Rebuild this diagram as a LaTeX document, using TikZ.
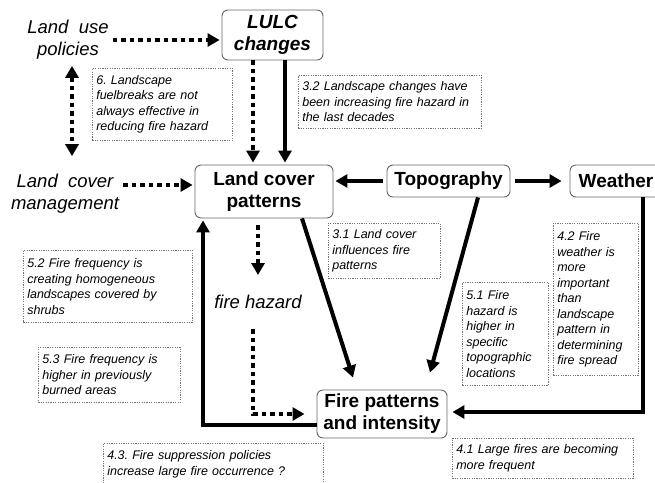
\documentclass[tikz,border=0pt]{standalone}
\usepackage{fontspec}
\setmainfont{Liberation Sans}
\usetikzlibrary{arrows.meta}
\begin{document}
\frenchspacing
\begin{tikzpicture}[x=1pt,y=-1pt,
 box/.style={draw=black!60, line width=0.9pt, rounded corners=6pt, fill=white, align=center, font=\fontsize{19}{22}\selectfont\bfseries, inner sep=0pt},
 lbl/.style={align=center, font=\fontsize{18.5}{22}\selectfont\itshape, inner sep=0pt},
 note/.style={draw=black!55, dash pattern=on 1.2pt off 1.2pt, line width=0.6pt, anchor=north west, align=left, font=\fontsize{12.5}{15.5}\selectfont\itshape\frenchspacing, inner xsep=4pt, inner ysep=4pt},
 solidarr/.style={line width=4pt, -{Triangle[width=13pt,length=12pt]}},
 dotarr/.style={line width=4.5pt, dash pattern=on 4.5pt off 4pt, -{Triangle[width=13pt,length=12pt]}},
]
\useasboundingbox (0,0) rectangle (655,482);
\clip (0,0) rectangle (655,482);
\fill[white] (0,0) rectangle (655,482);

% main boxes
\node[box, minimum width=101pt, minimum height=50pt, font=\fontsize{19}{22}\selectfont\bfseries\itshape] (lulc) at (272.5,35) {LULC\\changes};
\node[box, minimum width=138pt, minimum height=53pt] (lcp) at (264,191.5) {Land cover\\patterns};
\node[box, minimum width=123pt, minimum height=32pt] (topo) at (448.5,181) {Topography};
\node[box, minimum width=92pt, minimum height=32pt] (wea) at (616,181) {Weather};
\node[box, minimum width=130pt, minimum height=48pt] (fire) at (382,414) {Fire patterns\\and intensity};

% plain labels
\node[lbl] (lup) at (68,40) {Land\ \ use\\policies};
\node[lbl] (lcm) at (65,194) {Land\ \ cover\\management};
\node[lbl] (fh) at (258,302) {fire hazard};

% notes
\node[note, text width=132pt, minimum height=72pt] (n6) at (92,68) {6. Landscape\\fuelbreaks are not\\always effective in\\reducing fire hazard};
\node[note, text width=175pt, minimum height=53pt] (n32) at (298,75) {3.2 Landscape changes have\\been increasing fire hazard in\\the last decades};
\node[note, text width=104pt, minimum height=55pt] (n31) at (328,223) {3.1 Land cover\\influences fire\\patterns};
\node[note, text width=78pt, minimum height=103pt] (n51) at (462,282) {5.1 Fire\\hazard is\\higher in\\specific\\topographic\\locations};
\node[note, text width=77pt, minimum height=152pt] (n42) at (553,223) {4.2 Fire\\weather is\\more\\important\\than\\landscape\\pattern in\\determining\\fire spread};
\node[note, text width=161pt, minimum height=72pt] (n52) at (23,250) {5.2 Fire frequency is\\creating homogeneous\\landscapes covered by\\shrubs};
\node[note, text width=134pt, minimum height=55pt] (n53) at (38,347) {5.3 Fire frequency is\\higher in previously\\burned areas};
\node[note, text width=212pt, minimum height=42pt] (n43) at (103,443) {4.3. Fire suppression policies\\increase large fire occurrence ?};
\node[note, text width=173pt, minimum height=40pt] (n41) at (452,438) {4.1 Large fires are becoming\\more frequent};

% connectors
\draw[dotarr] ([xshift=4pt]lup.east) -- ([xshift=-2pt]lulc.west |- lup.east);
\draw[dotarr, {Triangle[width=13pt,length=12pt]}-{Triangle[width=13pt,length=12pt]}] ([shift={(4pt,-6pt)}]lup.south) -- ([shift={(7pt,18pt)}]lcm.north);
\draw[dotarr] ([xshift=-19.5pt]lulc.south) -- ([shift={(-11pt,2pt)}]lcp.north);
\draw[solidarr] ([xshift=12.5pt]lulc.south) -- ([shift={(21pt,2pt)}]lcp.north);
\draw[dotarr] ([shift={(4pt,9pt)}]lcm.east) -- ([shift={(-2pt,6.5pt)}]lcp.west);
\draw[solidarr, shorten >=2pt] ([xshift=-4pt]topo.west) -- (lcp.east |- topo.west);
\draw[solidarr, shorten >=8pt] ([xshift=5pt]topo.east) -- (wea.west);
\draw[dotarr, shorten <=7pt] (fh.north |- lcp.south) -- ([yshift=20pt]fh.north);
\draw[dotarr] ([shift={(-5pt,-20pt)}]fh.south) |- ([xshift=-12pt]fire.west);
\draw[solidarr] ([xshift=38pt]lcp.south) -- ([shift={(-29pt,12pt)}]fire.north);
\draw[solidarr] ([xshift=29.5pt]topo.south) -- ([shift={(48pt,17pt)}]fire.north);
\draw[solidarr] ([xshift=27pt]wea.south) |- ([shift={(5pt,2pt)}]fire.east);
\draw[solidarr] ([yshift=-11pt]fire.west) -| ([shift={(-61pt,-2pt)}]lcp.south);
\end{tikzpicture}
\end{document}
